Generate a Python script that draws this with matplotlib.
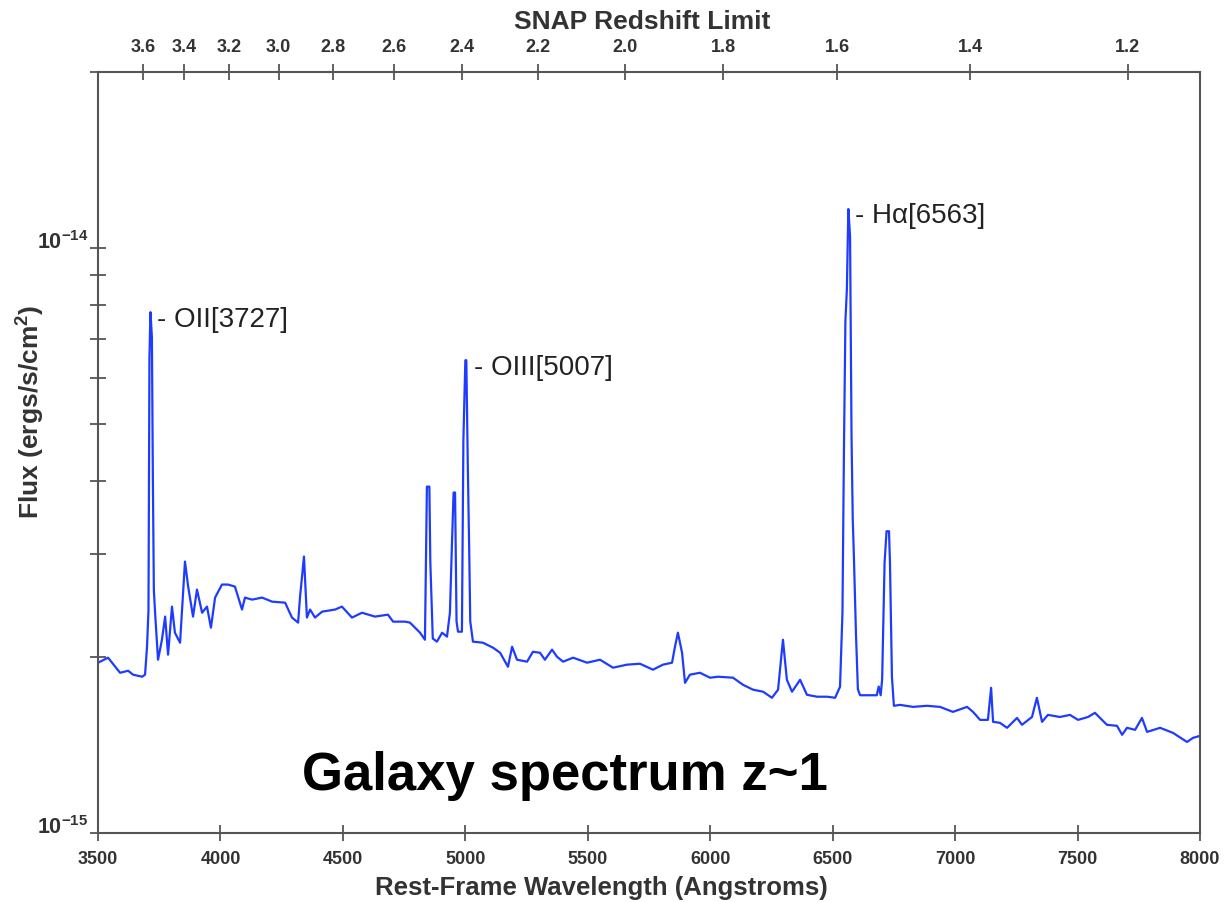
import matplotlib
matplotlib.use("Agg")
import matplotlib.pyplot as plt
from matplotlib.ticker import LogLocator, NullFormatter
import numpy as np

plt.rcParams['font.family'] = ['Liberation Sans', 'DejaVu Sans']
plt.rcParams['mathtext.fontset'] = 'custom'
plt.rcParams['mathtext.rm'] = 'Liberation Sans'
plt.rcParams['mathtext.bf'] = 'Liberation Sans:bold'

# rest-frame wavelength (Angstroms) and flux (1e-15 ergs/s/cm^2)
wave = [3500, 3541, 3590, 3623, 3643, 3680, 3692, 3700, 3706, 3710, 3714, 3720, 3724, 3728,
        3733, 3745, 3761, 3774, 3786, 3802, 3814, 3835, 3843, 3855, 3868, 3888, 3904, 3925,
        3945, 3961, 3978, 4006, 4031, 4059, 4088, 4100, 4129, 4170, 4211, 4264, 4292, 4317,
        4325, 4341, 4353, 4366, 4386, 4415, 4468, 4496, 4537, 4578, 4631, 4684, 4705, 4754,
        4774, 4815, 4835, 4843, 4853, 4857, 4862, 4867, 4884, 4905, 4925, 4937, 4945, 4952,
        4958, 4964, 4970, 4986, 4992, 5000, 5004, 5010, 5016, 5020, 5031, 5072, 5113, 5142,
        5174, 5191, 5211, 5252, 5276, 5305, 5325, 5354, 5374, 5399, 5440, 5497, 5550, 5603,
        5660, 5713, 5766, 5807, 5844, 5856, 5868, 5885, 5897, 5917, 5958, 5999, 6032, 6093,
        6134, 6175, 6216, 6252, 6277, 6297, 6313, 6334, 6367, 6395, 6436, 6477, 6510, 6530,
        6540, 6546, 6552, 6558, 6564, 6571, 6577, 6582, 6587, 6595, 6603, 6612, 6680, 6688,
        6696, 6702, 6712, 6720, 6730, 6734, 6742, 6750, 6775, 6828, 6885, 6938, 6991, 7049,
        7073, 7102, 7134, 7147, 7155, 7183, 7212, 7253, 7273, 7314, 7334, 7355, 7379, 7428,
        7469, 7502, 7543, 7571, 7620, 7661, 7682, 7702, 7735, 7763, 7784, 7837, 7890, 7947,
        7971, 8000]
flux = [1.955, 1.994, 1.879, 1.894, 1.865, 1.850, 1.865, 2.08, 2.4, 6.5, 7.77, 7.04, 4.0, 2.6,
        2.38, 1.978, 2.14, 2.344, 2.018, 2.438, 2.20, 2.115, 2.41, 2.911, 2.638, 2.344, 2.607, 2.38,
        2.438, 2.244, 2.526, 2.659, 2.659, 2.638, 2.41, 2.526, 2.506, 2.526, 2.486, 2.476, 2.335, 2.289,
        2.536, 2.969, 2.335, 2.41, 2.335, 2.39, 2.41, 2.438, 2.335, 2.38, 2.344, 2.362, 2.298, 2.298,
        2.289, 2.20, 2.14, 3.91, 3.91, 2.9, 2.5, 2.15, 2.124, 2.20, 2.166, 2.38, 3.09, 3.82,
        3.82, 2.3, 2.209, 2.209, 4.7, 6.43, 6.43, 4.25, 3.0, 2.3, 2.124, 2.115, 2.074, 2.033,
        1.924, 2.082, 1.978, 1.963, 2.041, 2.033, 1.978, 2.058, 2.002, 1.963, 1.994, 1.955, 1.978, 1.917,
        1.940, 1.947, 1.902, 1.940, 1.955, 2.082, 2.20, 2.033, 1.806, 1.865, 1.879, 1.843, 1.850, 1.843,
        1.792, 1.758, 1.744, 1.703, 1.758, 2.14, 1.828, 1.744, 1.828, 1.723, 1.710, 1.710, 1.703, 1.778,
        2.38, 4.5, 7.5, 8.5, 11.66, 10.48, 4.77, 3.44, 2.94, 2.2, 1.76, 1.72, 1.72, 1.78,
        1.72, 1.83, 2.9, 3.28, 3.28, 2.9, 1.85, 1.65, 1.656, 1.643, 1.650, 1.643, 1.611, 1.643,
        1.611, 1.561, 1.561, 1.771, 1.549, 1.543, 1.513, 1.573, 1.531, 1.579, 1.703, 1.549, 1.592, 1.579,
        1.592, 1.561, 1.579, 1.605, 1.531, 1.525, 1.472, 1.513, 1.501, 1.573, 1.489, 1.513, 1.483, 1.431,
        1.454, 1.466]

# labelled emission lines: (label, wavelength of peak, offset of label in Angstroms)
lines = [("OII[3727]", 3714, 27), ("OIII[5007]", 5002, 33), ("H\u03b1[6563]", 6564, 27)]

# SNAP redshift limit axis: z = 16950 / lambda - 1
z_ticks = [3.6, 3.4, 3.2, 3.0, 2.8, 2.6, 2.4, 2.2, 2.0, 1.8, 1.6, 1.4, 1.2]
z_const = 16950.0

wave = np.array(wave)
flux = np.array(flux) * 1e-15

fig = plt.figure(figsize=(12.3, 9.03), dpi=100)
ax = fig.add_axes([0.0797, 0.0764, 0.8959, 0.8428])

ax.plot(wave, flux, color='#1e3cff', lw=1.6)
ax.set_yscale('log')
ax.set_xlim(3500, 8000)
ax.set_ylim(1e-15, 2e-14)

for name, lam, off in lines:
    peak = flux[np.argmin(np.abs(wave - lam))]
    ax.text(lam + off, peak * 0.975, "- " + name, fontsize=20, color='#222222',
            ha='left', va='center')

tick_col = '#333333'
for s in ax.spines.values():
    s.set_color('#555555')
    s.set_linewidth(1.5)

ax.set_xticks(np.arange(3500, 8001, 500))
ax.tick_params(axis='x', which='major', direction='inout', length=12, width=1.3,
               color='#555555', labelsize=13, pad=6, labelcolor=tick_col)
for lab in ax.get_xticklabels():
    lab.set_fontweight('bold')

ax.set_yticks([1e-15, 1e-14], labels=[r'$\mathbf{10^{-15}}$', r'$\mathbf{10^{-14}}$'])
ax.yaxis.set_minor_locator(LogLocator(base=10, subs=np.arange(2, 10)))
ax.yaxis.set_minor_formatter(NullFormatter())
ax.tick_params(axis='y', which='both', direction='inout', length=12, width=1.3,
               color='#555555', labelsize=15.5, pad=1, labelcolor=tick_col)
for lab in ax.get_yticklabels():
    lab.set_va('baseline')

ax2 = ax.twiny()
ax2.set_xlim(ax.get_xlim())
ax2.set_xticks([z_const / (1 + z) for z in z_ticks])
ax2.set_xticklabels(["%.1f" % z for z in z_ticks], fontweight='bold')
ax2.tick_params(axis='x', direction='inout', length=12, width=1.3, color='#555555',
                labelsize=13, pad=6, labelcolor=tick_col)
for s in ax2.spines.values():
    s.set_visible(False)

fig.text(0.522, 0.976, "SNAP Redshift Limit", fontsize=19, fontweight='bold',
         color=tick_col, ha='center', va='center')
fig.text(0.4886, 0.0166, "Rest-Frame Wavelength (Angstroms)", fontsize=18.5,
         fontweight='bold', color=tick_col, ha='center', va='center')
fig.text(0.0244, 0.5437, r"Flux (ergs/s/cm$^\mathbf{2}$)", fontsize=19, fontweight='bold',
         color=tick_col, ha='center', va='center', rotation=90)
fig.text(0.2455, 0.125, "Galaxy spectrum z~1", fontsize=38, fontweight='bold',
         color='black', ha='left', va='baseline')

fig.savefig("out.png", dpi=100)
